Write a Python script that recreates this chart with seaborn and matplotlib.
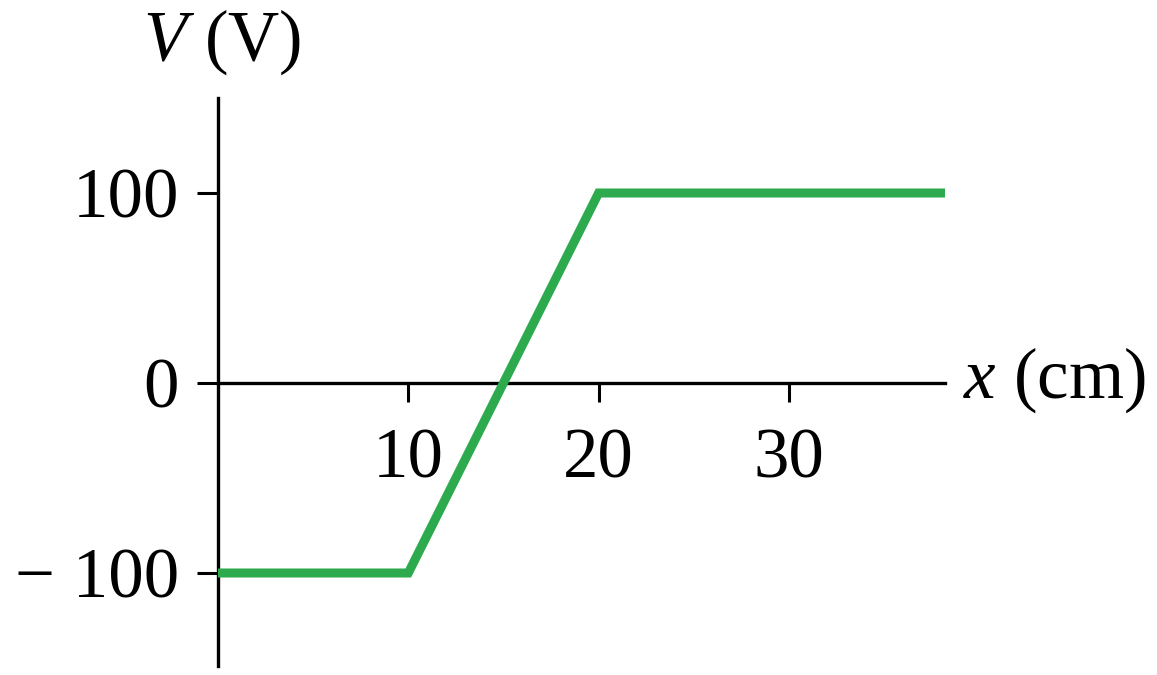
import matplotlib
matplotlib.use("Agg")
import matplotlib.pyplot as plt
import seaborn as sns
import pandas as pd

# Potential V as a function of position x
x_cm = [0, 10, 20, 38.2]
v_volts = [-100, -100, 100, 100]
x_ticks = [10, 20, 30]
y_ticks = [-100, 0, 100]
y_tick_labels = ["\u2212 100", "0", "100"]

sns.set_style("white")
plt.rcParams["font.family"] = ["Liberation Serif", "DejaVu Serif"]
plt.rcParams["mathtext.fontset"] = "custom"
plt.rcParams["mathtext.rm"] = "Liberation Serif"
plt.rcParams["mathtext.it"] = "Liberation Serif:italic"
plt.rcParams["text.color"] = "black"

W, H = 1157, 675
fig = plt.figure(figsize=(W / 100, H / 100), dpi=100)

# axes placed so that x=0 sits at the vertical axis, y=0 at the horizontal axis
x0_px, px_per_cm = 218, 19.03
y0_px, px_per_v = 383, 1.9
xlim = (0, 38.2)
ylim = (-149, 150)
left = x0_px / W
width = (xlim[1] - xlim[0]) * px_per_cm / W
top_px = y0_px - ylim[1] * px_per_v
bot_px = y0_px - ylim[0] * px_per_v
ax = fig.add_axes([left, (H - bot_px) / H, width, (bot_px - top_px) / H])

df = pd.DataFrame({"x": x_cm, "V": v_volts})
sns.lineplot(data=df, x="x", y="V", ax=ax, color="#2DAA4E", linewidth=6.5,
             solid_joinstyle="miter", zorder=3)

ax.set_xlim(*xlim)
ax.set_ylim(*ylim)
ax.spines["top"].set_visible(False)
ax.spines["right"].set_visible(False)
ax.spines["bottom"].set_position(("data", 0))
for s in ("left", "bottom"):
    ax.spines[s].set_linewidth(2.4)
    ax.spines[s].set_color("black")

ax.set_xticks(x_ticks)
ax.set_xticklabels([str(t) for t in x_ticks])
ax.set_yticks(y_ticks)
ax.set_yticklabels(y_tick_labels)
ax.tick_params(axis="x", bottom=True, direction="out", length=14, width=2.2,
               pad=18, labelsize=51, colors="black")
ax.tick_params(axis="y", left=True, direction="out", length=15, width=2.2,
               pad=13, labelsize=51, colors="black")
ax.set_xlabel("")
ax.set_ylabel("")

fig.text(963 / W, 1 - 398 / H, "$x$ (cm)", fontsize=51, ha="left",
         va="baseline", color="black")
fig.text(143 / W, 1 - 60 / H, "$V$ (V)", fontsize=51, ha="left",
         va="baseline", color="black")

fig.savefig("out.png", dpi=100, facecolor="white")
